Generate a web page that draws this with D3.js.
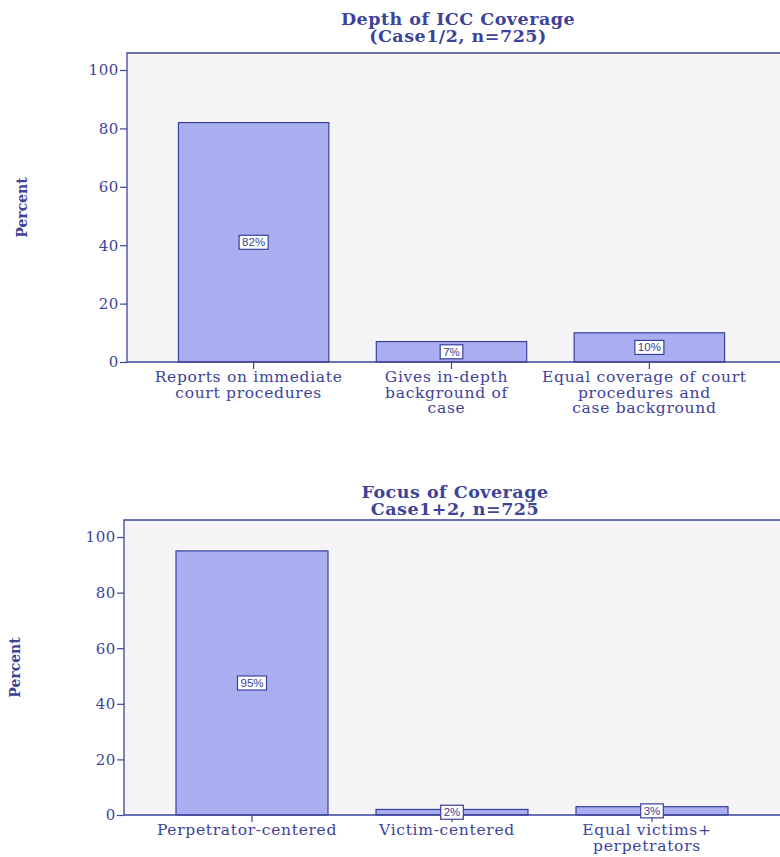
<!DOCTYPE html>
<html>
<head>
<meta charset="utf-8">
<script src="https://cdn.jsdelivr.net/npm/d3@7"></script>
<style>
  body { margin: 0; background: #ffffff; }
  svg text { font-family: "DejaVu Serif", serif; fill: #3d4399; }
  .valbox text { font-family: "Liberation Sans", Arial, sans-serif; fill: #3a3e8e; }
</style>
</head>
<body>
<svg id="chart" width="780" height="857"></svg>
<script>
// data
var depthTitle = ["Depth of ICC Coverage", "(Case1/2, n=725)"];
var depthCategories = ["Reports on immediate\ncourt procedures",
                       "Gives in-depth\nbackground of\ncase",
                       "Equal coverage of court\nprocedures and\ncase background"];
var depthValues = [82, 7, 10];

var focusTitle = ["Focus of Coverage", "Case1+2, n=725"];
var focusCategories = ["Perpetrator-centered", "Victim-centered", "Equal victims+\nperpetrators"];
var focusValues = [95, 2, 3];

var yTicks = [0, 20, 40, 60, 80, 100];
var yLabel = "Percent";

var ink = "#3d4399"
  , barFill = "#a9aef0"
  , barStroke = "#3b3f9c"
  , plotBg = "#f5f5f8"
;

var svg = d3.select("#chart");

function barChart(opts) {
    var g = svg.append("g");
    var x = d3.scaleBand()
        .domain(opts.categories)
        .range([opts.left, opts.right])
        .paddingInner(0.24)
        .paddingOuter(0.26);
    var y = d3.scaleLinear().domain([0, 100]).range([opts.base, opts.top100]);

    // titles
    g.selectAll("text.title")
        .data(opts.title)
      .enter().append("text")
        .attr("class", "title")
        .attr("x", opts.titleX)
        .attr("y", function(d, i) { return opts.titleY + i * 17; })
        .attr("text-anchor", "middle")
        .style("font-weight", "bold")
        .style("font-size", "17.5px")
        .style("letter-spacing", "0.5px")
        .text(function(d) { return d; });

    // plot background + frame (runs off the right edge)
    g.append("rect")
        .attr("x", opts.left).attr("y", opts.frameTop)
        .attr("width", 800 - opts.left).attr("height", opts.base - opts.frameTop)
        .attr("fill", plotBg);
    g.append("path")
        .attr("d", "M" + opts.left + "," + opts.base + "V" + opts.frameTop + "H800")
        .attr("fill", "none").attr("stroke", ink).attr("stroke-width", 1.3);

    // y axis
    var yAxis = d3.axisLeft(y).tickValues(yTicks).tickSize(7).tickPadding(1);
    var ya = g.append("g")
        .attr("transform", "translate(" + opts.left + ",0)")
        .call(yAxis);
    ya.select(".domain").remove();
    ya.selectAll(".tick line").attr("stroke", ink).attr("stroke-width", 1.2);
    ya.selectAll(".tick text")
        .style("font-size", "15px").style("letter-spacing", "0.6px").attr("fill", ink)
        .style("font-family", "DejaVu Serif, serif");

    g.append("text")
        .attr("transform", "translate(" + opts.yLabelX + "," + ((opts.base + opts.frameTop) / 2) + ") rotate(-90)")
        .attr("text-anchor", "middle")
        .style("font-size", "14px")
        .style("font-weight", "bold")
        .text(yLabel);

    // bars
    g.selectAll("rect.bar")
        .data(opts.values)
      .enter().append("rect")
        .attr("class", "bar")
        .attr("x", function(d, i) { return x(opts.categories[i]); })
        .attr("width", x.bandwidth())
        .attr("y", function(d) { return y(d); })
        .attr("height", function(d) { return y(0) - y(d); })
        .attr("fill", barFill)
        .attr("stroke", barStroke)
        .attr("stroke-width", 1.2);

    // x axis (baseline)
    var xa = g.append("g")
        .attr("transform", "translate(0," + opts.base + ")")
        .call(d3.axisBottom(x).tickSize(7).tickFormat(""));
    xa.select(".domain").attr("d", "M" + opts.left + ",0H800").attr("stroke", ink).attr("stroke-width", 1.3);
    xa.selectAll(".tick line").attr("stroke", ink).attr("stroke-width", 1.2);

    // category labels
    g.selectAll("text.cat")
        .data(opts.categories)
      .enter().append("text")
        .attr("class", "cat")
        .attr("text-anchor", "middle")
        .attr("transform", function(d) {
            return "translate(" + (x(d) + x.bandwidth() / 2 - 5) + "," + (opts.base + 20) + ")";
          })
        .style("font-size", "15.5px")
        .style("letter-spacing", "0.7px")
        .each(function(d) {
            var t = d3.select(this);
            d.split("\n").forEach(function(line, i) {
                t.append("tspan").attr("x", 0).attr("dy", i ? 15.5 : 0).text(line);
            });
          });

    // value boxes in the middle of each bar
    var vb = g.selectAll("g.valbox")
        .data(opts.values)
      .enter().append("g")
        .attr("class", "valbox")
        .attr("transform", function(d, i) {
            return "translate(" + (x(opts.categories[i]) + x.bandwidth() / 2) + "," + y(d / 2) + ")";
          });
    vb.append("text")
        .attr("text-anchor", "middle")
        .attr("dy", "0.35em")
        .style("font-size", "11.5px")
        .text(function(d) { return d + "%"; });
    vb.each(function() {
        var b = d3.select(this).select("text").node().getBBox();
        d3.select(this).insert("rect", "text")
            .attr("x", b.x - 3).attr("y", b.y - 1)
            .attr("width", b.width + 6).attr("height", b.height + 2)
            .attr("fill", "#fff").attr("stroke", barStroke).attr("stroke-width", 1.2);
    });
}

barChart({
    title: depthTitle, categories: depthCategories, values: depthValues,
    titleX: 458, titleY: 25,
    left: 127, right: 776, frameTop: 53, top100: 70, base: 362, yLabelX: 27
});
barChart({
    title: focusTitle, categories: focusCategories, values: focusValues,
    titleX: 455, titleY: 498,
    left: 124, right: 780, frameTop: 520, top100: 537, base: 815, yLabelX: 20
});
</script>
</body>
</html>
